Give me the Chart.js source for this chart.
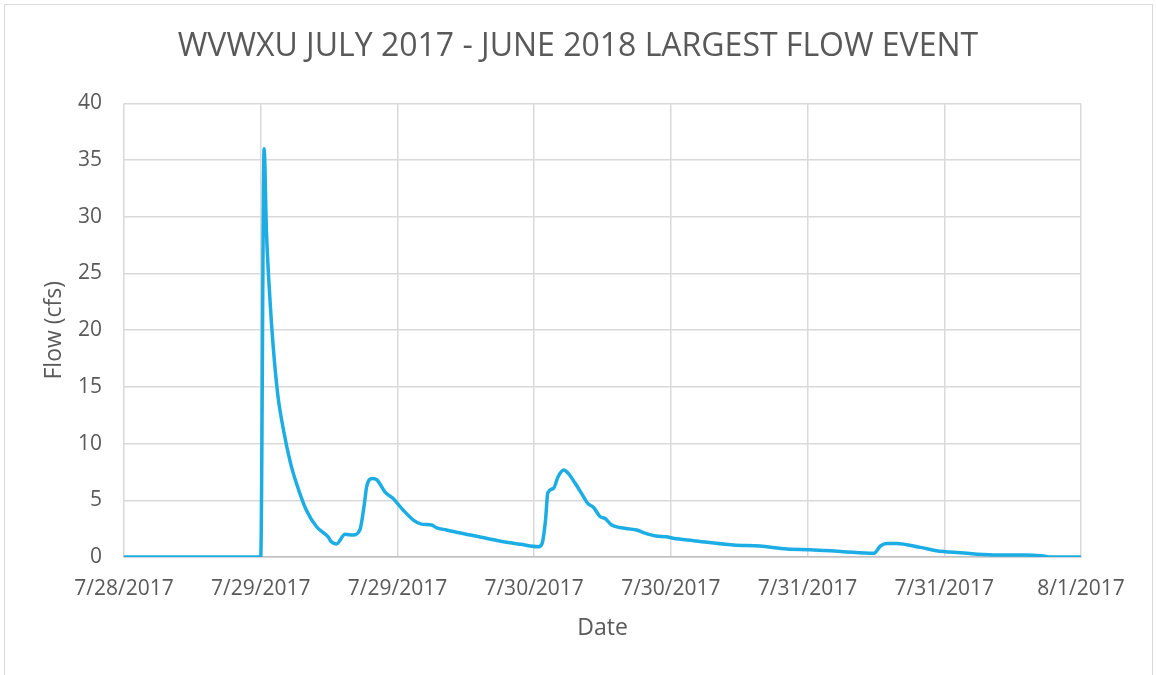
<!DOCTYPE html>
<html>
<head>
<meta charset="utf-8">
<script src="https://cdn.jsdelivr.net/npm/chart.js@4.4.1/dist/chart.umd.min.js"></script>
<style>
  html, body { margin: 0; padding: 0; background: #fff; }
  #wrap { position: relative; width: 1156px; height: 675px; overflow: hidden; }
  #frame { position: absolute; left: 4px; top: 4px; width: 1147px; height: 690px; border: 1px solid #d9d9d9; }
  canvas { position: absolute; left: 0; top: 0; }
</style>
</head>
<body>
<div id="wrap">
  <div id="frame"></div>
  <canvas id="chart" width="1156" height="675"></canvas>
</div>
<script>
// hours since 7/28/2017 00:00
const hours = [
  12, 24.0, 24.3, 24.5, 24.8, 25.1, 25.5, 26.0, 26.6, 27.2, 28.0, 28.9, 29.9, 30.2, 30.65,
  31.4, 32.1, 32.7, 33.1, 33.3, 33.8, 34.2, 34.9, 35.6, 36.5, 37.4, 38.1, 39.0, 39.4, 40.3,
  42.4, 43.8, 45.3, 46.8, 48.4, 48.7, 49.0, 49.2, 49.7, 50.1, 50.6, 51.0, 51.6, 52.3, 52.7,
  53.2, 53.8, 54.2, 54.8, 55.5, 57.0, 57.6, 58.7, 59.6, 60.2, 62.0, 65.5, 67.8, 70.2, 72.2,
  75.1, 77.8, 78.4, 78.9, 79.8, 81.9, 83.3, 85.4, 88.3, 90.9, 92.7, 93.3, 96
]
const flow = [
  0, 0, 36.0, 28.8, 22.9, 18.5, 14.3, 11.2, 8.35, 6.3, 4.14, 2.67, 1.79, 1.35, 1.15,
  2.0, 1.94, 2.38, 4.7, 6.2, 6.93, 6.8, 5.75, 5.17, 4.14, 3.26, 2.9, 2.82, 2.6, 2.38,
  1.94, 1.65, 1.35, 1.12, 0.91, 1.2, 3.26, 5.67, 6.05, 7.08, 7.67, 7.37, 6.5, 5.37, 4.73,
  4.38, 3.55, 3.41, 2.82, 2.6, 2.38, 2.15, 1.85, 1.79, 1.65, 1.44, 1.06, 0.97, 0.7, 0.65,
  0.47, 0.32, 0.97, 1.2, 1.2, 0.85, 0.56, 0.38, 0.18, 0.18, 0.09, 0, 0
]
const xTickLabels = ["7/28/2017", "7/29/2017", "7/29/2017", "7/30/2017", "7/30/2017", "7/31/2017", "7/31/2017", "8/1/2017"]
const yTicks = [0, 5, 10, 15, 20, 25, 30, 35, 40]

const points = hours.map((h, i) => ({ x: h, y: flow[i] }))
const font = "'Open Sans', sans-serif"
const textColor = "#595959"

new Chart(document.getElementById("chart"), {
  type: "line",
  data: {
    datasets: [{
      label: "Flow",
      data: points,
      borderColor: "#1cade4",
      borderWidth: 3.5,
      pointRadius: 0,
      cubicInterpolationMode: "monotone",
      fill: false,
    }],
  },
  options: {
    responsive: false,
    animation: false,
    layout: { padding: { left: 30, right: 30, top: 0, bottom: 0 } },
    plugins: {
      legend: { display: false },
      tooltip: { enabled: false },
      title: {
        display: true,
        text: "WVWXU JULY 2017 - JUNE 2018 LARGEST FLOW EVENT",
        color: textColor,
        font: { family: font, size: 32, weight: "normal" },
        padding: { top: 28, bottom: 37 },
      },
    },
    scales: {
      x: {
        type: "linear",
        min: 12,
        max: 96,
        afterFit: (scale) => { scale.height = 118 },
        ticks: {
          stepSize: 12,
          color: textColor,
          font: { family: font, size: 21 },
          maxRotation: 0,
          padding: 19,
          callback: (v) => xTickLabels[Math.round((v - 12) / 12)],
        },
        grid: { color: "#d9d9d9", lineWidth: 1.5, drawTicks: false },
        border: { color: "#bfbfbf", width: 1.5 },
        title: { display: true, text: "Date", color: textColor, font: { family: font, size: 23 }, padding: { top: 0, bottom: 33 } },
      },
      y: {
        min: 0,
        max: 40,
        afterBuildTicks: (scale) => { scale.ticks = yTicks.map(v => ({ value: v })) },
        afterFit: (scale) => { scale.width = 94 },
        ticks: {
          color: textColor,
          font: { family: font, size: 21 },
          padding: 22,
        },
        grid: { color: "#d9d9d9", lineWidth: 1.5, drawTicks: false },
        border: { display: false },
        title: { display: true, text: "Flow (cfs)", color: textColor, font: { family: font, size: 23 }, padding: { top: 11, bottom: 0 } },
      },
      spacer: {
        position: "right",
        afterFit: (scale) => { scale.width = 45 },
        ticks: { display: false },
        grid: { display: false },
        border: { display: false },
      },
    },
  },
})
</script>
</body>
</html>
